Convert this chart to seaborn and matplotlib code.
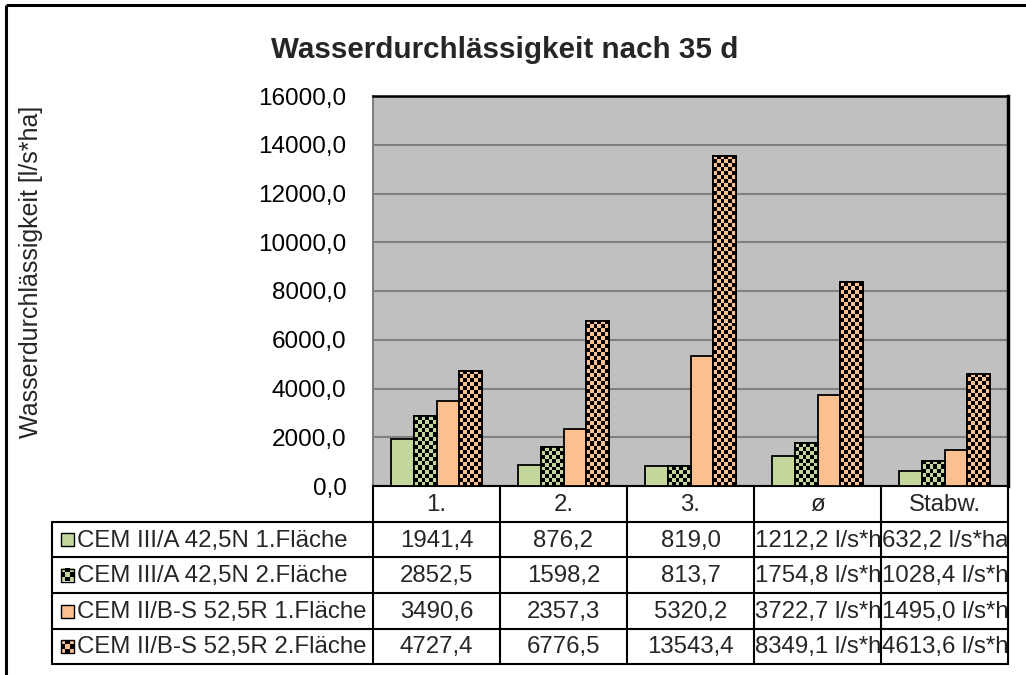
import numpy as np
import pandas as pd
import matplotlib
matplotlib.use("Agg")
import matplotlib.pyplot as plt
import matplotlib.colors as mcolors
import seaborn as sns
from matplotlib.patches import Rectangle
from matplotlib.ticker import FuncFormatter

# ---------------- data ----------------
title = "Wasserdurchlässigkeit nach 35 d"
ylabel = "Wasserdurchlässigkeit [l/s*ha]"
categories = ["1.", "2.", "3.", "ø", "Stabw."]
series = ["CEM III/A 42,5N 1.Fläche", "CEM III/A 42,5N 2.Fläche",
          "CEM II/B-S 52,5R 1.Fläche", "CEM II/B-S 52,5R 2.Fläche"]
s1 = [1941.4, 876.2, 819.0, 1212.2, 632.2]
s2 = [2852.5, 1598.2, 813.7, 1754.8, 1028.4]
s3 = [3490.6, 2357.3, 5320.2, 3722.7, 1495.0]
s4 = [4727.4, 6776.5, 13543.4, 8349.1, 4613.6]
values = [s1, s2, s3, s4]
unit = "l/s*ha"
unit_columns = ["ø", "Stabw."]
colors = ["#C3D69B", "#C3D69B", "#FAC090", "#FAC090"]
checkered = [False, True, False, True]
yticks = list(range(0, 16001, 2000))

# ---------------- style ----------------
sns.set_style("white")
plt.rcParams["font.family"] = ["Liberation Sans", "DejaVu Sans"]

W, H = 1026, 675
fig = plt.figure(figsize=(W / 100, H / 100), dpi=100)
renderer = fig.canvas.get_renderer()

# layout in pixels
ax_l, ax_r, ax_t, ax_b = 373, 1008, 96, 486
ax = fig.add_axes([ax_l / W, 1 - ax_b / H, (ax_r - ax_l) / W, (ax_b - ax_t) / H])
ax.set_facecolor("#C0C0C0")

df = pd.DataFrame({
    "cat": [c for s in series for c in categories],
    "val": [v for vals in values for v in vals],
    "series": [s for s in series for _ in categories],
})
pal = {s: c for s, c in zip(series, colors)}
sns.barplot(data=df, x="cat", y="val", hue="series", order=categories,
            hue_order=series, palette=pal, width=0.72, saturation=1,
            edgecolor="black", linewidth=1.3, ax=ax, legend=False,
            errorbar=None, zorder=3)

ax.set_xlim(-0.5, len(categories) - 0.5)
ax.set_ylim(0, 16000)
ax.set_yticks(yticks)
ax.yaxis.set_major_formatter(FuncFormatter(lambda v, p: f"{v:.1f}".replace(".", ",")))
ax.tick_params(axis="y", length=0, pad=19, labelsize=17.5, colors="black")
ax.tick_params(axis="x", length=0, labelbottom=False)
ax.set_xlabel("")
ax.set_ylabel("")
ax.set_axisbelow(True)
ax.yaxis.grid(True, color="#808080", linewidth=1.5)
ax.xaxis.grid(False)
for side, col, lw in [("left", "#808080", 1.5), ("top", "black", 1.8),
                      ("right", "black", 2.5), ("bottom", "black", 1.5)]:
    ax.spines[side].set_visible(True)
    ax.spines[side].set_color(col)
    ax.spines[side].set_linewidth(lw)


def checker_fill(target_ax, x0, y0, w, h, color, nx, ny, clip, z):
    ii, jj = np.indices((ny, nx))
    mask = (ii + jj) % 2 == 0
    rgb = np.array(mcolors.to_rgb(color))
    img = np.where(mask[..., None], rgb, np.zeros(3))
    im = target_ax.imshow(img, extent=(x0, x0 + w, y0, y0 + h), origin="lower",
                          interpolation="nearest", aspect="auto", zorder=z)
    if clip is not None:
        im.set_clip_path(clip)
    return im


cell = 4.0
for i, cont in enumerate(ax.containers):
    if not checkered[i]:
        continue
    for p in cont.patches:
        x0, y0, w, h = p.get_x(), p.get_y(), p.get_width(), p.get_height()
        (px0, py0), (px1, py1) = ax.transData.transform([(x0, y0), (x0 + w, y0 + h)])
        nx = max(1, int(round(abs(px1 - px0) / cell)))
        ny = max(1, int(round(abs(py1 - py0) / cell)))
        checker_fill(ax, x0, y0, w, h, colors[i], nx, ny, p, p.get_zorder() + 0.1)
        ax.add_patch(Rectangle((x0, y0), w, h, fill=False, edgecolor="black",
                               linewidth=1.3, zorder=p.get_zorder() + 0.2))
ax.set_xlim(-0.5, len(categories) - 0.5)
ax.set_ylim(0, 16000)

# ---------------- overlay (pixel coordinates) ----------------
ov = fig.add_axes([0, 0, 1, 1])
ov.set_xlim(0, W)
ov.set_ylim(H, 0)
ov.axis("off")
ov.patch.set_visible(False)

# outer frame (top/left visible)
ov.plot([6, 6], [5, H], color="black", lw=2.2, solid_capstyle="butt")
ov.plot([6, W], [5, 5], color="black", lw=2.2, solid_capstyle="butt")

ov.text(505, 58, title, ha="center", va="baseline", fontsize=21.3, fontweight="bold")
ov.text(31, 272, ylabel, rotation=90, ha="center", va="center", fontsize=18)

# data table
col_x = np.linspace(ax_l, ax_r, len(categories) + 1)
row_y = [ax_b, 522, 557, 593, 629, 664]
lab_l = 52
tlw = 1.5
for x in col_x:
    ov.plot([x, x], [row_y[0], row_y[-1]], color="black", lw=tlw)
ov.plot([lab_l, lab_l], [row_y[1], row_y[-1]], color="black", lw=tlw)
for y in row_y[1:]:
    ov.plot([lab_l, ax_r], [y, y], color="black", lw=tlw)

fs = 17.3
for j, c in enumerate(categories):
    ov.text((col_x[j] + col_x[j + 1]) / 2, (row_y[0] + row_y[1]) / 2 + 1, c,
            ha="center", va="center", fontsize=fs)

for i, s in enumerate(series):
    yc = (row_y[i + 1] + row_y[i + 2]) / 2
    # legend key
    kx, ks = 61, 13
    if checkered[i]:
        checker_fill(ov, kx, yc + ks / 2, ks, -ks, colors[i], 3, 3, None, 4)
        ov.add_patch(Rectangle((kx, yc - ks / 2), ks, ks, fill=False,
                               edgecolor="black", lw=1.0, zorder=5))
    else:
        ov.add_patch(Rectangle((kx, yc - ks / 2), ks, ks, facecolor=colors[i],
                               edgecolor="black", lw=1.0, zorder=5))
    ov.text(kx + ks + 3, yc + 1, s, ha="left", va="center", fontsize=fs)
    for j, c in enumerate(categories):
        v = values[i][j]
        txt = f"{v:.1f}".replace(".", ",")
        if c in unit_columns:
            full = txt + " " + unit
            t = ov.text(col_x[j] + 1, yc + 1, full, ha="left",
                        va="center", fontsize=fs)
            avail = col_x[j + 1] - col_x[j] + 1
            # cut the text to the cell width, as the spreadsheet does
            while len(t.get_text()) > 1 and \
                    t.get_window_extent(renderer).width > avail:
                t.set_text(t.get_text()[:-1])
        else:
            ov.text((col_x[j] + col_x[j + 1]) / 2, yc + 1, txt, ha="center",
                    va="center", fontsize=fs)

ov.set_xlim(0, W)
ov.set_ylim(H, 0)

fig.savefig("out.png", dpi=100)
